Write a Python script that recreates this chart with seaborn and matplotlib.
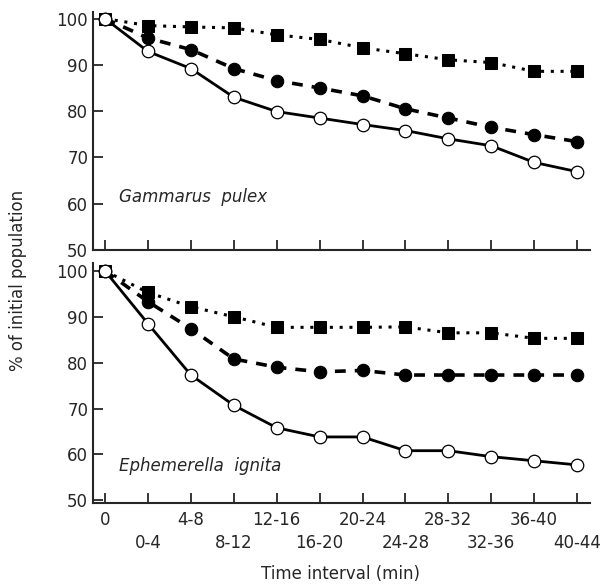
import numpy as np
import pandas as pd
import matplotlib
matplotlib.use("Agg")
import matplotlib.pyplot as plt
import seaborn as sns

# Data =================================================================================================================

intervals = ["0", "0-4", "4-8", "8-12", "12-16", "16-20", "20-24", "24-28", "28-32", "32-36", "36-40", "40-44"]

gammarus_squares = [100, 98.5, 98.2, 98.0, 96.5, 95.5, 93.7, 92.4, 91.1, 90.5, 88.6, 88.6]
gammarus_filled = [100, 95.8, 93.3, 89.2, 86.6, 85.0, 83.3, 80.5, 78.5, 76.5, 74.9, 73.4]
gammarus_open = [100, 92.9, 89.2, 83.0, 79.9, 78.5, 77.1, 75.8, 74.0, 72.5, 68.9, 66.9]

ephemerella_squares = [100, 95.3, 92.2, 90.0, 87.7, 87.7, 87.7, 87.8, 86.5, 86.5, 85.3, 85.3]
ephemerella_filled = [100, 93.3, 87.4, 80.8, 79.0, 78.0, 78.3, 77.3, 77.3, 77.3, 77.3, 77.3]
ephemerella_open = [100, 88.5, 77.3, 70.7, 65.8, 63.8, 63.8, 60.8, 60.8, 59.5, 58.6, 57.7]

# Plot =================================================================================================================

sns.set_style("ticks")
plt.rcParams["font.family"] = ["DejaVu Sans"]

fig = plt.figure(figsize=(6.12, 5.85), dpi=100)
ax_top = fig.add_axes([0.152, 0.573, 0.812, 0.407])
ax_bot = fig.add_axes([0.152, 0.141, 0.812, 0.410])

x = np.arange(len(intervals))


def draw_panel(ax, squares, filled, opened, name, name_y):
    df = pd.DataFrame({"x": x, "sq": squares, "fc": filled, "oc": opened})
    sns.lineplot(data=df, x="x", y="sq", ax=ax, color="black", linestyle=(0, (1, 2.2)), linewidth=2.2,
                 marker="s", markersize=8, markeredgecolor="black", markerfacecolor="black")
    sns.lineplot(data=df, x="x", y="fc", ax=ax, color="black", linestyle=(0, (3, 2.5)), linewidth=2.6,
                 marker="o", markersize=9, markeredgecolor="black", markerfacecolor="black")
    sns.lineplot(data=df, x="x", y="oc", ax=ax, color="black", linestyle="-", linewidth=2.0,
                 marker="o", markersize=9, markeredgecolor="black", markerfacecolor="white",
                 markeredgewidth=0.9)

    ax.text(0.32, name_y, name, fontsize=12, style="italic", va="center", ha="left")

    ax.set_xlim(-0.28, 11.3)
    ax.set_yticks([50, 60, 70, 80, 90, 100])
    ax.set_xticks(x[::2])
    ax.set_xticks(x[1::2], minor=True)
    ax.tick_params(axis="both", which="both", direction="in", length=7, width=1.3, labelsize=12)
    ax.spines["top"].set_visible(False)
    ax.spines["right"].set_visible(False)
    ax.spines["left"].set_linewidth(1.5)
    ax.spines["bottom"].set_linewidth(1.5)
    ax.set_xlabel("")
    ax.set_ylabel("")


draw_panel(ax_top, gammarus_squares, gammarus_filled, gammarus_open, "Gammarus  pulex", 61.4)
ax_top.set_ylim(50, 101.5)
ax_top.set_xticklabels([])
ax_top.set_xticklabels([], minor=True)

draw_panel(ax_bot, ephemerella_squares, ephemerella_filled, ephemerella_open, "Ephemerella  ignita", 57.4)
ax_bot.set_ylim(49.5, 101.8)
ax_bot.set_xticklabels(intervals[::2])
ax_bot.set_xticklabels(intervals[1::2], minor=True)
ax_bot.tick_params(axis="x", which="major", pad=6)
ax_bot.tick_params(axis="x", which="minor", pad=23)

fig.text(0.556, 0.018, "Time interval (min)", fontsize=12, ha="center", va="center")
fig.text(0.029, 0.521, "% of initial population", rotation=90, fontsize=12, ha="center", va="center")

fig.savefig("out.png", dpi=100)
